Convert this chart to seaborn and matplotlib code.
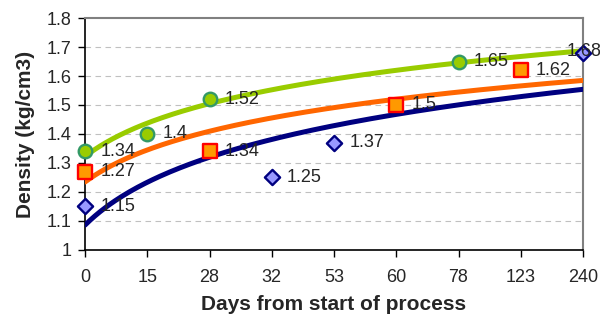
import numpy as np
import pandas as pd
import matplotlib
matplotlib.use("Agg")
import matplotlib.pyplot as plt
import seaborn as sns

# data
days = ["0", "15", "28", "32", "53", "60", "78", "123", "240"]
green_vals = [1.34, 1.40, 1.52, np.nan, np.nan, np.nan, 1.65, np.nan, np.nan]
orange_vals = [1.27, np.nan, 1.34, np.nan, np.nan, 1.50, np.nan, 1.62, np.nan]
blue_vals = [1.15, np.nan, np.nan, 1.25, 1.37, np.nan, np.nan, np.nan, 1.68]
yticks = [1.0, 1.1, 1.2, 1.3, 1.4, 1.5, 1.6, 1.7, 1.8]

sns.set_style("white")
plt.rcParams['font.family'] = ['Liberation Sans', 'DejaVu Sans']

fig = plt.figure(figsize=(6, 3.25), dpi=100)
ax = fig.add_axes([0.1417, 0.2308, 0.83, 0.7138])

pos = np.arange(len(days))
series = [
    (green_vals, "#99CC00", "#339966", "o", 95, "#99CC00"),
    (orange_vals, "#FF9900", "#FF0000", "s", 95, "#FF6600"),
    (blue_vals, "#9999FF", "#000080", "D", 60, "#000080"),
]

# logarithmic trendlines (Excel style, x = 1..n)
xx = np.linspace(0, len(days) - 1, 200)
for vals, face, edge, mk, size, lc in series:
    v = np.array(vals)
    ok = ~np.isnan(v)
    a, b = np.polyfit(np.log(pos[ok] + 1), v[ok], 1)
    trend = pd.DataFrame({"x": xx, "y": a * np.log(xx + 1) + b})
    sns.lineplot(data=trend, x="x", y="y", color=lc, lw=3.6, ax=ax, zorder=3)

for vals, face, edge, mk, size, lc in series:
    df = pd.DataFrame({"x": pos, "y": vals}).dropna()
    sns.scatterplot(data=df, x="x", y="y", marker=mk, s=size, color=face,
                    edgecolor=edge, linewidth=1.7, ax=ax, zorder=5, clip_on=False)
    for x, y in zip(df["x"], df["y"]):
        lab = "{:g}".format(y)
        if x == len(days) - 1:
            ax.annotate(lab, (x, y), xytext=(-12, 1), textcoords="offset points",
                        va="center", ha="left", fontsize=13, zorder=6,
                        annotation_clip=False)
        else:
            ax.annotate(lab, (x, y), xytext=(11, 0), textcoords="offset points",
                        va="center", ha="left", fontsize=13, zorder=6)

ax.set_xlim(0, len(days) - 1)
ax.set_ylim(1.0, 1.8)
ax.set_xticks(pos)
ax.set_xticklabels(days)
ax.set_yticks(yticks)
ax.set_yticklabels(["{:g}".format(t) for t in yticks])
for t in yticks[1:-1]:
    ax.axhline(t, color="#C0C0C0", lw=0.8, ls=(0, (5, 4)), zorder=1)

ax.tick_params(axis="both", labelsize=13, direction="out", length=5, width=1,
               color="black", left=True, bottom=True, pad=5)
ax.tick_params(axis="x", pad=9)
for s in ["left", "bottom"]:
    ax.spines[s].set_color("black")
    ax.spines[s].set_linewidth(1.2)
for s in ["top", "right"]:
    ax.spines[s].set_color("#808080")
    ax.spines[s].set_linewidth(1.5)

ax.set_xlabel("Days from start of process", fontsize=15, fontweight="bold", labelpad=6)
ax.set_ylabel("Density (kg/cm3)", fontsize=15, fontweight="bold", labelpad=8)

fig.savefig("out.png", dpi=100)
